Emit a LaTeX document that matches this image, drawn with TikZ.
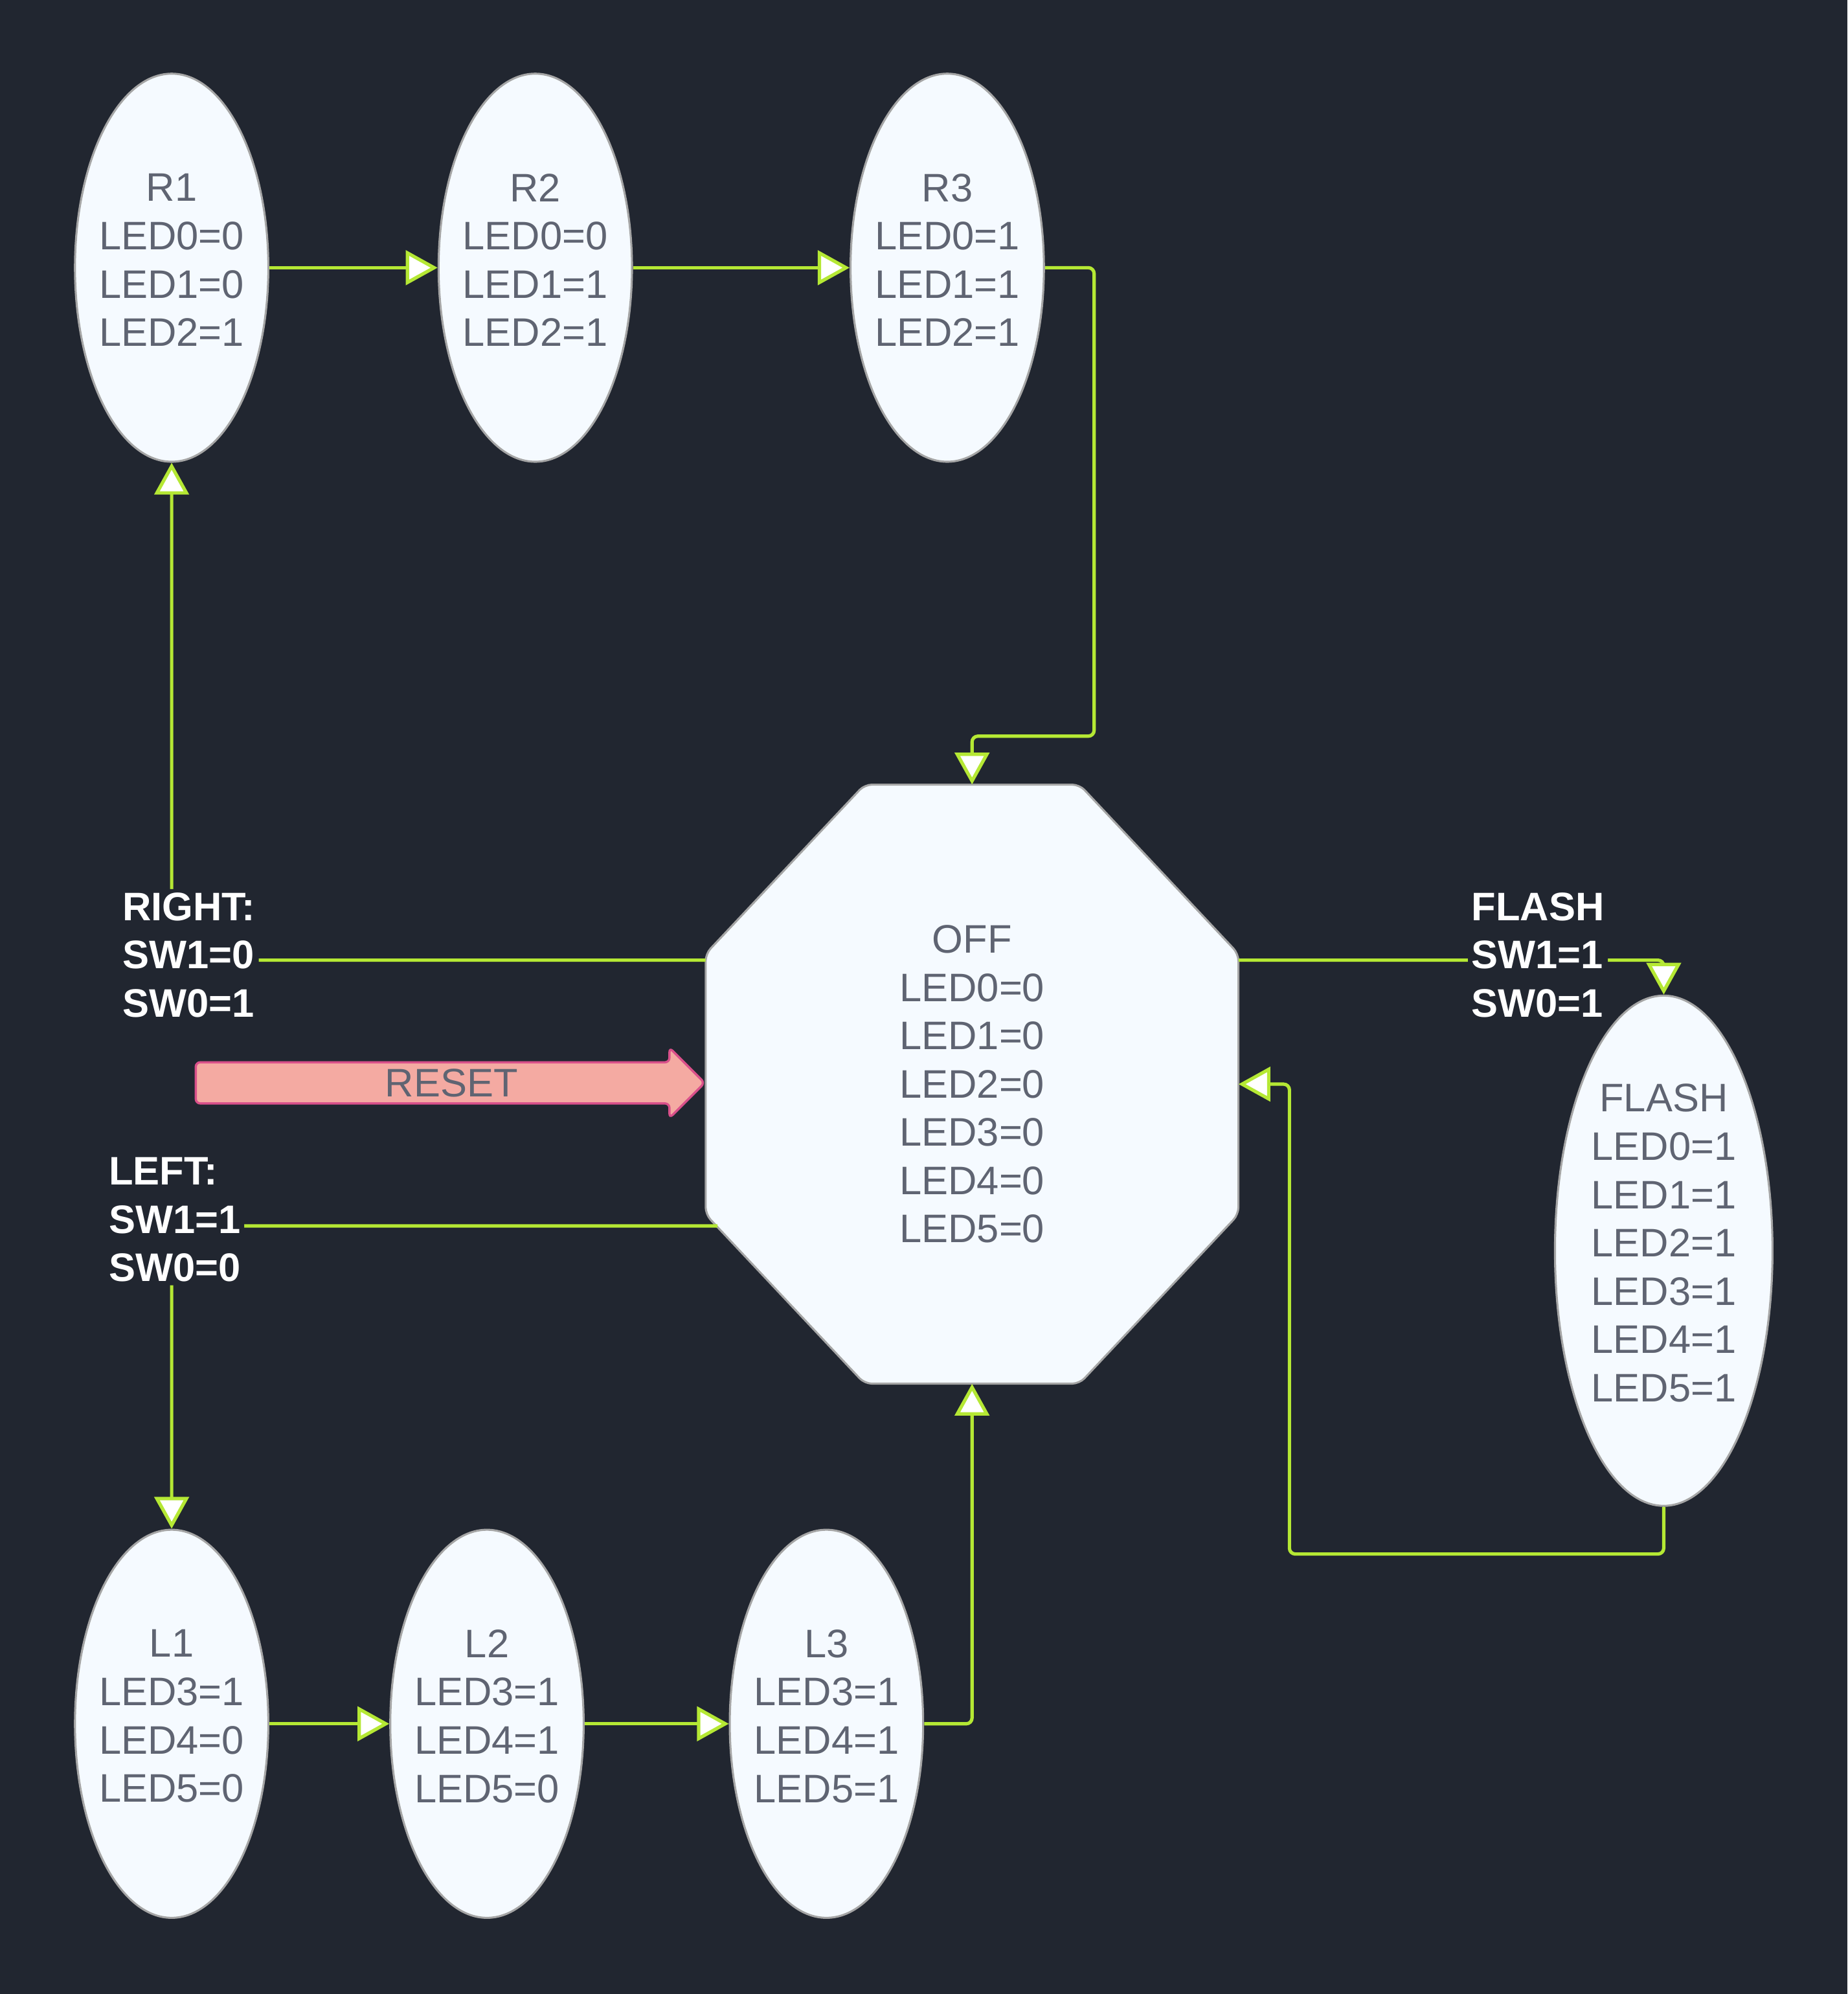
\documentclass[tikz,border=0pt]{standalone}
\usepackage{fontspec}
\setmainfont{Liberation Sans}
\usetikzlibrary{calc,arrows.meta,shapes.geometric,shapes.arrows}

\definecolor{bgdark}{HTML}{212630}
\definecolor{statefill}{HTML}{F5FAFF}
\definecolor{stateline}{HTML}{A5A5A5}
\definecolor{statetext}{HTML}{5F6472}
\definecolor{transgreen}{HTML}{B5E834}
\definecolor{resetfill}{HTML}{F4AAA2}
\definecolor{resetline}{HTML}{D9508A}

\tikzset{
	statenode/.style={ellipse, draw=stateline, fill=statefill, line width=0.45pt, inner sep=0pt, minimum width=1.52cm, minimum height=3.05cm},
	stateinfo/.style={text=statetext, align=center, inner sep=0pt, yshift=0.06cm, font=\fontsize{8.9}{10.8}\selectfont},
	octo/.style={draw=stateline, fill=statefill, line width=0.45pt, rounded corners=1.6pt},
	offtext/.style={rectangle, text=statetext, align=center, inner sep=0pt, outer sep=0pt, minimum width=4.19cm, minimum height=4.71cm, font=\fontsize{8.9}{10.8}\selectfont},
	trans/.style={draw=transgreen, line width=0.75pt, rounded corners=1.3pt, -{Triangle[length=0.25cm, width=0.27cm, fill=white]}},
	condlbl/.style={fill=bgdark, text=white, align=left, inner sep=0.8pt, font=\fontsize{8.9}{10.8}\selectfont\bfseries},
	resetarrow/.style={single arrow, draw=resetline, fill=resetfill, line width=0.5pt, text=statetext, inner sep=1.2pt, single arrow head extend=0.115cm, minimum height=4cm, rounded corners=1pt, font=\fontsize{8.9}{10.8}\selectfont},
}

\begin{document}
\begin{tikzpicture}[x=0.01cm, y=-0.01cm]
	%%%%% START %%%%%
	
	\fill[bgdark] (0,0) rectangle (1453,1568);
	\useasboundingbox (0,0) rectangle (1453,1568);
	
	% OFF octagon
	\coordinate (offc) at (764.5,852.5);
	\draw[octo, shift={(offc)}] (0,-235.5) -- (84.5,-235.5) -- (209.5,-102.5) -- (209.5,102.5) -- (84.5,235.5) -- (-84.5,235.5) -- (-209.5,102.5) -- (-209.5,-102.5) -- (-84.5,-235.5) -- cycle;
	\node[offtext] (OFF) at (offc) {OFF\\LED0=0\\LED1=0\\LED2=0\\LED3=0\\LED4=0\\LED5=0};
	
	% right states
	\node[statenode, label={[stateinfo]center:R1\\LED0=0\\LED1=0\\LED2=1}] (R1) at (135,210.5) {};
	\node[statenode, label={[stateinfo]center:R2\\LED0=0\\LED1=1\\LED2=1}] (R2) at (421,210.5) {};
	\node[statenode, label={[stateinfo]center:R3\\LED0=1\\LED1=1\\LED2=1}] (R3) at (745,210.5) {};
	
	% left states
	\node[statenode, label={[stateinfo]center:L1\\LED3=1\\LED4=0\\LED5=0}] (L1) at (135,1355.5) {};
	\node[statenode, label={[stateinfo]center:L2\\LED3=1\\LED4=1\\LED5=0}] (L2) at (383,1355.5) {};
	\node[statenode, label={[stateinfo]center:L3\\LED3=1\\LED4=1\\LED5=1}] (L3) at (650,1355.5) {};
	
	% flash state
	\node[statenode, minimum width=1.71cm, minimum height=4.01cm, label={[stateinfo]center:FLASH\\LED0=1\\LED1=1\\LED2=1\\LED3=1\\LED4=1\\LED5=1}] (FL) at (1308.5,983.5) {};
	
	\node[resetarrow] (RST) at (346,851.5) {\hspace*{0.18cm}RESET};
	
	% transitions
	\draw[trans] (R1) -- (R2);
	\draw[trans] (R2) -- (R3);
	\draw[trans] (R3.east) -| ($(OFF.north)+(96,-38)$) -| (OFF.north);
	
	\draw[trans] ($(OFF.west)+(0,-97.5)$) -| node[condlbl, pos=0.5, xshift=0.135cm, yshift=0.04cm] {RIGHT:\\SW1=0\\SW0=1} (R1.south);
	\draw[trans] ($(OFF.west)+(9.5,111.5)$) -| node[condlbl, pos=0.5, xshift=0.025cm, yshift=0.05cm] {LEFT:\\SW1=1\\SW0=0} (L1.north);
	
	\draw[trans] (L1) -- (L2);
	\draw[trans] (L2) -- (L3);
	\draw[trans] (L3.east) -| (OFF.south);
	
	\draw[trans] ($(OFF.east)+(0,-97.5)$) -| node[condlbl, pos=0.352, yshift=0.04cm] {FLASH\\SW1=1\\SW0=1} (FL.north);
	\draw[trans] (FL.south) |- ($(OFF.east)+(40,369.5)$) |- (OFF.east);
	
	%%%%% END %%%%%
\end{tikzpicture}
\end{document}
